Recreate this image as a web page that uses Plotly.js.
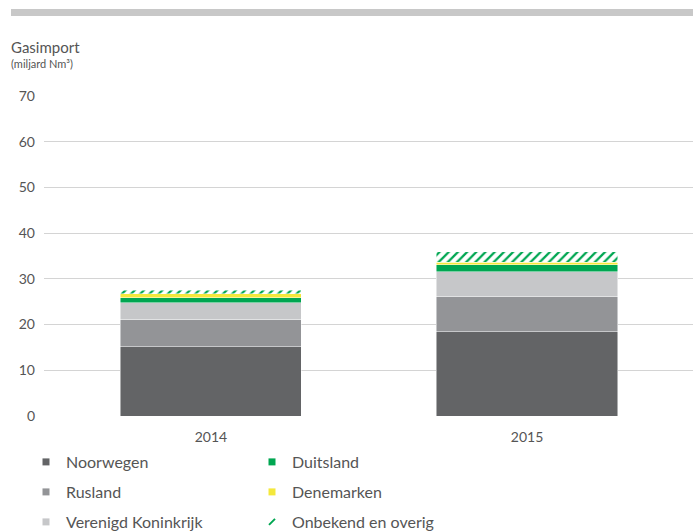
<!DOCTYPE html>
<html>
<head>
<meta charset="utf-8">
<script src="https://cdn.plot.ly/plotly-3.0.1.min.js"></script>
<style>html,body{margin:0;padding:0;background:#fff;}#chart{width:693px;height:532px;}</style>
</head>
<body>
<div id="chart"></div>
<script>
const years = ['2014', '2015'];
const noorwegen = [15.1, 18.4];
const rusland = [6.0, 7.7];
const verenigdKoninkrijk = [3.7, 5.5];
const duitsland = [1.1, 1.5];
const denemarken = [0.8, 0.5];
const onbekend = [0.8, 2.3];
const yTicks = [0, 10, 20, 30, 40, 50, 60, 70];

const series = [
  {name: 'Noorwegen', y: noorwegen, color: '#636466', legend: 'legend', rank: 1},
  {name: 'Rusland', y: rusland, color: '#939497', legend: 'legend', rank: 2},
  {name: 'Verenigd Koninkrijk', y: verenigdKoninkrijk, color: '#c6c7c9', legend: 'legend', rank: 3},
  {name: 'Duitsland', y: duitsland, color: '#00a651', legend: 'legend2', rank: 1},
  {name: 'Denemarken', y: denemarken, color: '#f4e83c', legend: 'legend2', rank: 2},
  {name: 'Onbekend en overig', y: onbekend, color: '#00a651', legend: 'legend2', rank: 3, hatch: true}
];

const traces = [];
series.forEach((s, i) => {
  const marker = {color: s.hatch ? '#ffffff' : s.color, line: {color: 'rgba(255,255,255,0.6)', width: 0.8}};
  if (s.hatch) {
    marker.pattern = {shape: '/', fgcolor: s.color, bgcolor: '#ffffff', size: 6.5, solidity: 0.35, fillmode: 'replace'};
  }
  traces.push({
    type: 'bar', x: years, y: s.y, name: s.name, marker: marker,
    width: 0.573, showlegend: false, legendgroup: 'g' + i, hoverinfo: 'name+y'
  });
});
series.forEach((s, i) => {
  traces.push({
    type: 'scatter', mode: 'markers', x: [null], y: [null], name: s.name,
    legend: s.legend, legendgroup: 'g' + i, legendrank: s.rank,
    marker: s.hatch
      ? {symbol: 'line-ne', size: 6, color: s.color, line: {color: s.color, width: 2}}
      : {symbol: 'square', size: 7, color: s.color},
    hoverinfo: 'skip'
  });
});

const legendBase = {
  orientation: 'v', xref: 'paper', yref: 'paper',
  xanchor: 'left', yanchor: 'top', y: (416 - 445) / 320,
  font: {family: 'Lato, sans-serif', size: 16, color: '#555555'},
  tracegroupgap: 6.2, itemclick: false, itemdoubleclick: false,
  bgcolor: 'rgba(0,0,0,0)', borderwidth: 0
};

const layout = {
  width: 693, height: 532,
  margin: {l: 44, r: 0, t: 96, b: 116, autoexpand: false},
  paper_bgcolor: '#ffffff', plot_bgcolor: '#ffffff',
  font: {family: 'Lato, sans-serif', color: '#555555'},
  barmode: 'stack',
  title: {
    text: 'Gasimport',
    font: {family: 'Lato, sans-serif', size: 15, color: '#555555'},
    xref: 'container', yref: 'container', x: 11 / 693, xanchor: 'left',
    y: 1 - 47.5 / 532, yanchor: 'middle'
  },
  annotations: [{
    text: '(miljard Nm³)', xref: 'paper', yref: 'paper',
    x: (9 - 44) / 649, y: (416 - 63) / 320, xanchor: 'left', yanchor: 'middle',
    showarrow: false, font: {family: 'Lato, sans-serif', size: 11, color: '#555555'}
  }],
  xaxis: {
    type: 'category', range: [-0.528, 1.525],
    showgrid: false, zeroline: false, showline: false, ticks: '',
    ticklabelstandoff: 11,
    tickfont: {family: 'Lato, sans-serif', size: 14, color: '#555555'}
  },
  yaxis: {
    range: [0, 70], tickmode: 'array', tickvals: yTicks, ticktext: yTicks.map(String),
    showgrid: true, gridcolor: '#d4d4d4', gridwidth: 1.3,
    zeroline: false, showline: false, ticks: '', ticklabelstandoff: 8,
    tickfont: {family: 'Lato, sans-serif', size: 14, color: '#555555'}
  },
  legend: Object.assign({}, legendBase, {x: (26 - 44) / 649}),
  legend2: Object.assign({}, legendBase, {x: (252 - 44) / 649}),
  shapes: [{
    type: 'rect', xref: 'paper', yref: 'paper',
    x0: (11 - 44) / 649, x1: 1.01, y0: (416 - 16) / 320, y1: (416 - 9) / 320,
    fillcolor: '#c8c8c8', line: {width: 0}, layer: 'above'
  }],
  hovermode: 'closest'
};

Plotly.newPlot('chart', traces, layout, {displayModeBar: false});
</script>
</body>
</html>
